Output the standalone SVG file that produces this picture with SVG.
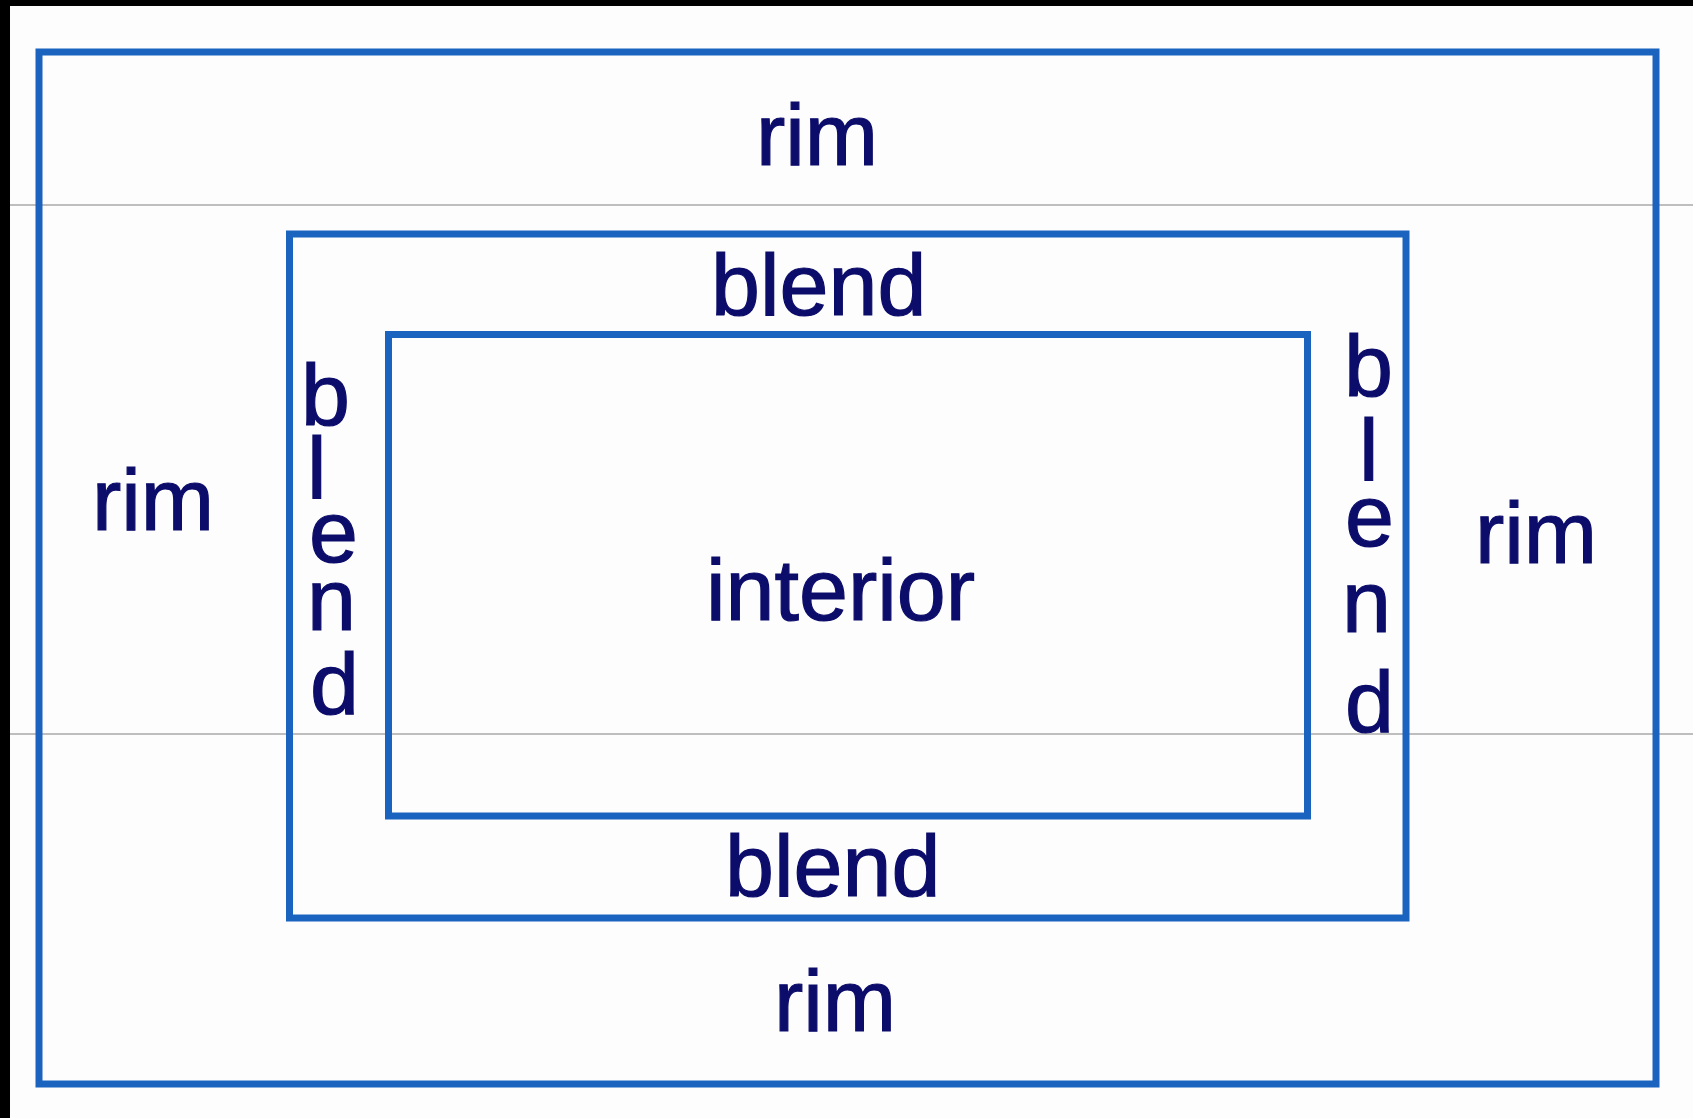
<svg xmlns="http://www.w3.org/2000/svg" width="1693" height="1118" viewBox="0 0 1693 1118">
<style>
.frame{fill:none;stroke:#1a64c0;stroke-width:7}
.lbl{font-family:"Liberation Sans",Arial,sans-serif;font-size:88px;fill:#0c0c6a;stroke:#0c0c6a;stroke-width:1.2}
.rule{stroke:#a8a8a8;stroke-width:1.5}
</style>
<rect x="0" y="0" width="1693" height="1118" fill="#fdfdfd"/>
<rect x="0" y="0" width="1693" height="6" fill="#000"/>
<rect x="0" y="0" width="10" height="1118" fill="#000"/>
<g id="guides">
<line class="rule" x1="10" y1="205" x2="1693" y2="205"/>
<line class="rule" x1="10" y1="734" x2="1693" y2="734"/>
</g>
<g id="rim">
<rect class="frame" x="39" y="52" width="1617" height="1032"/>
<text class="lbl" x="756" y="165">rim</text>
<text class="lbl" x="92" y="530">rim</text>
<text class="lbl" x="1475" y="563">rim</text>
<text class="lbl" x="774" y="1031">rim</text>
</g>
<g id="blend">
<rect class="frame" x="289.5" y="234" width="1116.5" height="684"/>
<text class="lbl" x="711" y="315">blend</text>
<text class="lbl" x="725" y="896">blend</text>
<text class="lbl"><tspan x="301" y="425">b</tspan><tspan x="307" y="498">l</tspan><tspan x="309" y="562">e</tspan><tspan x="307" y="630">n</tspan><tspan x="310" y="714">d</tspan></text>
<text class="lbl"><tspan x="1344" y="396">b</tspan><tspan x="1359" y="480">l</tspan><tspan x="1345" y="546">e</tspan><tspan x="1342" y="632">n</tspan><tspan x="1345" y="732">d</tspan></text>
</g>
<g id="interior">
<rect class="frame" x="388.5" y="334.5" width="919" height="481.5"/>
<text class="lbl" x="706" y="620">interior</text>
</g>
<g id="connectors"/>
</svg>
